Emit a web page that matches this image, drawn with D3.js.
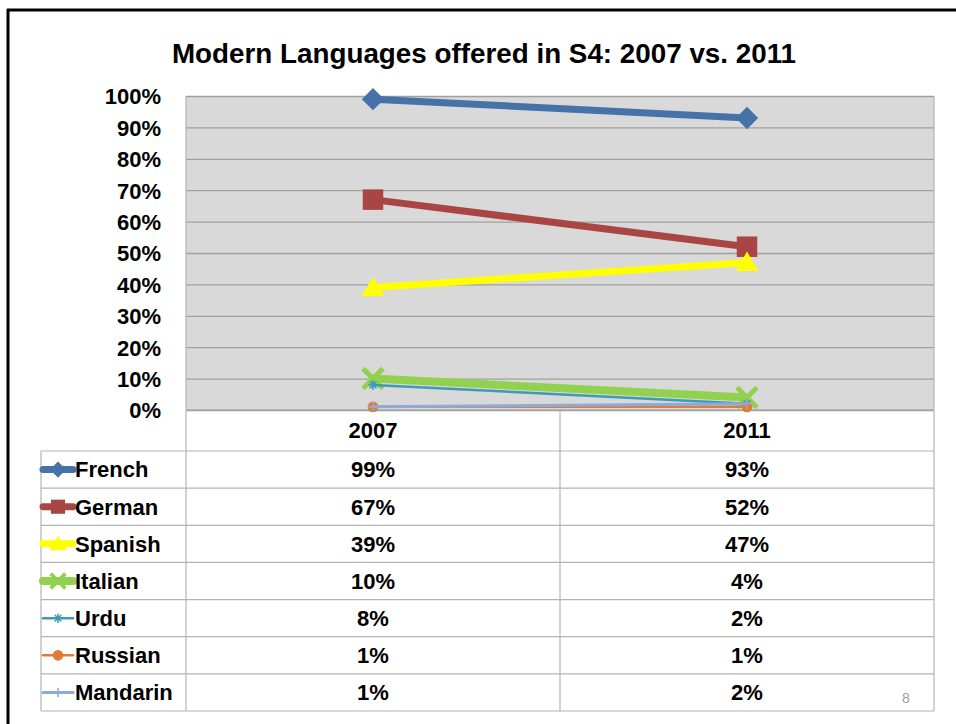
<!DOCTYPE html>
<html>

<head>
    <title>Modern Languages</title>
    <script src="https://cdn.jsdelivr.net/npm/d3@7"></script>
    <style>
        body { margin: 0; background: #fff; }
        text { font-family: 'Liberation Sans', Arial, sans-serif; }
    </style>
</head>

<body>
    <svg width="956" height="724" id="mainsvg"></svg>
    <script>
        // data
        const years = ['2007', '2011'];
        const languages = ['French', 'German', 'Spanish', 'Italian', 'Urdu', 'Russian', 'Mandarin'];
        const values = [
            [0.99, 0.93],
            [0.67, 0.52],
            [0.39, 0.47],
            [0.10, 0.04],
            [0.08, 0.02],
            [0.01, 0.01],
            [0.01, 0.02]
        ];
        const yTicks = [0, 0.1, 0.2, 0.3, 0.4, 0.5, 0.6, 0.7, 0.8, 0.9, 1.0];
        const titleText = 'Modern Languages offered in S4: 2007 vs. 2011';

        const colors = ['#4572a9', '#a94644', '#ffff00', '#92d050', '#3c9bb7', '#e07c3a', '#8eaad8'];
        const lineWidths = [7, 7, 7, 8, 2.5, 2.5, 3];

        const svg = d3.select('#mainsvg');
        const plot = { left: 186, right: 934, top: 96, bottom: 410 };
        const table = { left: 41, headerBottom: 451, bottom: 711 };
        const fmt = d3.format('.0%');

        const xScale = d3.scaleBand().domain(years).range([plot.left, plot.right]);
        const yScale = d3.scaleLinear().domain([0, 1]).range([plot.bottom, plot.top]);
        const rowScale = d3.scaleBand().domain(languages).range([table.headerBottom, table.bottom]);
        const xc = d => xScale(d) + xScale.bandwidth() / 2;

        // custom marker shapes, used through d3.symbol
        const diamond = {
            draw(ctx, size) {
                const r = Math.sqrt(size) / 2;
                ctx.moveTo(0, -r); ctx.lineTo(r, 0); ctx.lineTo(0, r); ctx.lineTo(-r, 0); ctx.closePath();
            }
        };
        const xMark = {
            draw(ctx, size) {
                const r = Math.sqrt(size) / 2, t = r * 0.3;
                const pts = [[0, -t], [r - t, -r], [r, -r + t], [t, 0], [r, r - t], [r - t, r], [0, t], [-r + t, r], [-r, r - t], [-t, 0], [-r, -r + t], [-r + t, -r]];
                ctx.moveTo(pts[0][0], pts[0][1]);
                pts.slice(1).forEach(p => ctx.lineTo(p[0], p[1]));
                ctx.closePath();
            }
        };
        const triangle = {
            draw(ctx, size) {
                const r = Math.sqrt(size) / 2;
                ctx.moveTo(0, -r * 0.95); ctx.lineTo(r, r * 0.75); ctx.lineTo(-r, r * 0.75); ctx.closePath();
            }
        };
        const asterisk = {
            draw(ctx, size) {
                const r = Math.sqrt(size) / 2;
                ctx.moveTo(-r, 0); ctx.lineTo(r, 0);
                ctx.moveTo(-r * 0.7, -r * 0.7); ctx.lineTo(r * 0.7, r * 0.7);
                ctx.moveTo(-r * 0.7, r * 0.7); ctx.lineTo(r * 0.7, -r * 0.7);
                ctx.moveTo(0, -r); ctx.lineTo(0, r);
            }
        };
        const plus = {
            draw(ctx, size) {
                const r = Math.sqrt(size) / 2;
                ctx.moveTo(-r, 0); ctx.lineTo(r, 0);
                ctx.moveTo(0, -r); ctx.lineTo(0, r);
            }
        };
        const markers = [
            { type: diamond, size: 500, filled: true },
            { type: d3.symbolSquare, size: 420, filled: true },
            { type: triangle, size: 520, filled: true },
            { type: xMark, size: 550, filled: true },
            { type: asterisk, size: 100, filled: false },
            { type: d3.symbolCircle, size: 90, filled: true },
            { type: plus, size: 100, filled: false }
        ];
        const legendMarkers = [
            { type: diamond, size: 260 },
            { type: d3.symbolSquare, size: 200 },
            { type: triangle, size: 300 },
            { type: xMark, size: 300 },
            { type: asterisk, size: 90 },
            { type: d3.symbolCircle, size: 90 },
            { type: plus, size: 90 }
        ];

        // outer frame
        svg.append('line').attr('x1', 7).attr('x2', 956).attr('y1', 10).attr('y2', 10)
            .attr('stroke', '#000').attr('stroke-width', 3);
        svg.append('line').attr('x1', 8).attr('x2', 8).attr('y1', 9).attr('y2', 724)
            .attr('stroke', '#000').attr('stroke-width', 3);

        // title
        svg.append('text')
            .attr('x', 484).attr('y', 63)
            .attr('text-anchor', 'middle')
            .attr('font-size', 27.8).attr('font-weight', 'bold')
            .attr('fill', '#000')
            .text(titleText);

        // plot background + grid
        svg.append('rect')
            .attr('x', plot.left).attr('y', plot.top)
            .attr('width', plot.right - plot.left).attr('height', plot.bottom - plot.top)
            .attr('fill', '#d9d9d9');

        const yAxis = d3.axisLeft(yScale)
            .tickValues(yTicks)
            .tickFormat(fmt)
            .tickSize(-(plot.right - plot.left))
            .tickPadding(25);
        const yAxisGroup = svg.append('g')
            .attr('transform', `translate(${plot.left}, 0)`)
            .call(yAxis);
        yAxisGroup.selectAll('.domain').remove();
        yAxisGroup.selectAll('.tick line').attr('stroke', '#a0a0a0').attr('stroke-width', 1.3);
        yAxisGroup.selectAll('.tick text')
            .attr('font-size', 22).attr('font-weight', 'bold')
            .attr('font-family', "'Liberation Sans', Arial, sans-serif")
            .attr('fill', '#000').attr('dy', '0.36em');

        // table lines
        const gridColor = '#b4b4b4';
        const tg = svg.append('g').attr('stroke', gridColor).attr('stroke-width', 1.2);
        tg.append('line').attr('x1', plot.left).attr('x2', plot.left).attr('y1', plot.top).attr('y2', table.bottom);
        tg.append('line').attr('x1', plot.right).attr('x2', plot.right).attr('y1', plot.top).attr('y2', table.bottom);
        tg.append('line').attr('x1', xScale('2011')).attr('x2', xScale('2011')).attr('y1', plot.bottom).attr('y2', table.bottom);
        tg.append('line').attr('x1', table.left).attr('x2', table.left).attr('y1', table.headerBottom).attr('y2', table.bottom);
        tg.selectAll('.rowline').data(languages.concat(['end'])).join('line')
            .attr('class', 'rowline')
            .attr('x1', table.left).attr('x2', plot.right)
            .attr('y1', (d, i) => i < languages.length ? rowScale(d) : table.bottom)
            .attr('y2', (d, i) => i < languages.length ? rowScale(d) : table.bottom);
        tg.append('line').attr('x1', plot.left).attr('x2', plot.right).attr('y1', plot.bottom).attr('y2', plot.bottom)
            .attr('stroke', '#a0a0a0');

        // header years
        svg.selectAll('.yearLabel').data(years).join('text')
            .attr('class', 'yearLabel')
            .attr('x', d => xc(d))
            .attr('y', (plot.bottom + table.headerBottom) / 2)
            .attr('dy', '0.36em')
            .attr('text-anchor', 'middle')
            .attr('font-size', 22).attr('font-weight', 'bold')
            .text(d => d);

        // value cells
        languages.forEach((lang, i) => {
            const ry = rowScale(lang) + rowScale.bandwidth() / 2;
            svg.selectAll(`.cell${i}`).data(values[i]).join('text')
                .attr('class', `cell${i}`)
                .attr('x', (d, j) => xc(years[j]))
                .attr('y', ry)
                .attr('dy', '0.36em')
                .attr('text-anchor', 'middle')
                .attr('font-size', 22).attr('font-weight', 'bold')
                .text(d => fmt(d));

            // legend key
            const key = svg.append('g').attr('transform', `translate(0, ${ry})`);
            key.append('line').attr('x1', 43).attr('x2', 73).attr('y1', 0).attr('y2', 0)
                .attr('stroke', colors[i]).attr('stroke-width', lineWidths[i]).attr('stroke-linecap', 'round');
            const lm = legendMarkers[i];
            key.append('path')
                .attr('transform', 'translate(58, 0)')
                .attr('d', d3.symbol().type(lm.type).size(lm.size)())
                .attr('fill', markers[i].filled ? colors[i] : 'none')
                .attr('stroke', colors[i])
                .attr('stroke-width', markers[i].filled ? 0 : 1.5);
            key.append('text')
                .attr('x', 75).attr('y', 0).attr('dy', '0.36em')
                .attr('font-size', 22).attr('font-weight', 'bold')
                .text(lang);
        });

        // series lines and markers
        const line = d3.line()
            .x((d, j) => xc(years[j]))
            .y(d => yScale(d));
        languages.forEach((lang, i) => {
            const sg = svg.append('g').attr('class', 'series');
            sg.append('path')
                .datum(values[i])
                .attr('d', line)
                .attr('fill', 'none')
                .attr('stroke', colors[i])
                .attr('stroke-width', lineWidths[i]);
            const m = markers[i];
            sg.selectAll('.marker').data(values[i]).join('path')
                .attr('class', 'marker')
                .attr('transform', (d, j) => `translate(${xc(years[j])}, ${yScale(d)})`)
                .attr('d', d3.symbol().type(m.type).size(m.size)())
                .attr('fill', m.filled ? colors[i] : 'none')
                .attr('stroke', colors[i])
                .attr('stroke-width', m.filled ? 0 : 1.5);
        });

        // slide number
        svg.append('text')
            .attr('x', 906).attr('y', 703)
            .attr('text-anchor', 'middle')
            .attr('font-size', 14)
            .attr('fill', '#a0a0a0')
            .text('8');
    </script>
</body>

</html>
